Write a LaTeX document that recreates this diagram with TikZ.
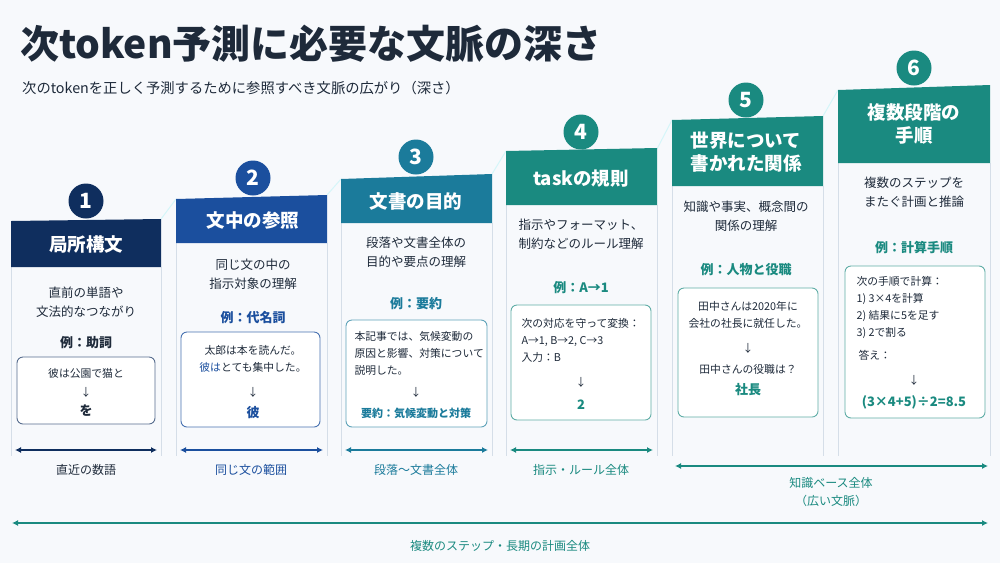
\documentclass[tikz,border=0pt]{standalone}
\usepackage{fontspec}
\setmainfont{Noto Sans CJK JP}
\usetikzlibrary{arrows.meta}
\definecolor{cA}{HTML}{0F2E5E}
\definecolor{cB}{HTML}{1B4F9E}
\definecolor{cC}{HTML}{1B7B9B}
\definecolor{cD}{HTML}{1A8A80}
\definecolor{txt}{HTML}{1E2A3A}
\definecolor{bord}{HTML}{D5DEE8}
\definecolor{bg}{HTML}{F7F9FC}
\begin{document}
\begin{tikzpicture}[x=1pt,y=-1pt,
  body/.style={draw=bord,fill=white,line width=0.8pt},
  num/.style={circle,minimum size=35pt,inner sep=0pt,text=white,font=\fontsize{21}{21}\selectfont\bfseries},
  head/.style={text=white,font=\fontsize{18.5}{23}\selectfont\bfseries,align=center},
  desc/.style={text=txt,font=\fontsize{12.5}{19}\selectfont,align=center},
  ex/.style={font=\fontsize{13}{15}\selectfont\bfseries},
  exbox/.style={draw,rounded corners=6pt,line width=0.9pt,fill=white},
  small/.style={text=txt,font=\fontsize{10.8}{17}\selectfont,align=left,anchor=north west},
  sc/.style={text=txt,font=\fontsize{10.8}{12}\selectfont},
  rng/.style={{Latex[length=6pt,width=6pt]}-{Latex[length=6pt,width=6pt]},line width=1.3pt},
  rl/.style={text=txt,font=\fontsize{12}{18}\selectfont}]
\fill[bg] (0,0) rectangle (1000,563);
\useasboundingbox (0,0) rectangle (1000,563);
\node[anchor=west,text=txt,font=\fontsize{39}{42}\selectfont\bfseries,inner sep=0pt] (title) at (20,44) {次token予測に必要な文脈の深さ};
\node[anchor=west,text=txt,font=\fontsize{14.3}{16}\selectfont,inner sep=0pt] (sub) at (22,88) {次のtokenを正しく予測するために参照すべき文脈の広がり（深さ）};
% connectors between headers
\draw[bord!70!cyan!40,line width=1pt] (161,219) -- (176,199) (327,195) -- (341,179) (492,174) -- (506,151) (657,149) -- (672,120) (823,116) -- (838,90) ;
% columns
\foreach \xa/\xb/\ta/\tb/\hb/\c in {11/161/221/219/267/cA,176/327/199/195/243/cB,341/492/179/174/223/cC,506/657/151/148/205/cD,672/823/120/116/186/cD,838/990/90/85/163/cD}{
  \draw[body] (\xa,\hb) -- (\xa,456) (\xb,\hb) -- (\xb,456);
  \fill[\c] (\xa,\ta) -- (\xb,\tb) -- (\xb,\hb) -- (\xa,\hb) -- cycle;
}
\node[num,fill=cA] (n1) at (86,201) {1};
\node[num,fill=cB] (n2) at (253,178) {2};
\node[num,fill=cC] (n3) at (416,157) {3};
\node[num,fill=cD] (n4) at (581,132) {4};
\node[num,fill=cD] (n5) at (746,100) {5};
\node[num,fill=cD] (n6) at (914,68) {6};
\node[head] (h1) at (86,244) {局所構文};
\node[head] (h2) at (253,221) {文中の参照};
\node[head] (h3) at (416,201) {文書の目的};
\node[head] (h4) at (581,179) {taskの規則};
\node[head] (h5) at (746,152) {世界について\\書かれた関係};
\node[head] (h6) at (914,124) {複数段階の\\手順};
% descriptions
\node[desc] (d1) at (86,302) {直前の単語や\\文法的なつながり};
\node[desc] (d2) at (253,274) {同じ文の中の\\指示対象の理解};
\node[desc] (d3) at (416,252) {段落や文書全体の\\目的や要点の理解};
\node[desc] (d4) at (581,234) {指示やフォーマット、\\制約などのルール理解};
\node[desc] (d5) at (746,216) {知識や事実、概念間の\\関係の理解};
\node[desc] (d6) at (914,192) {複数のステップを\\またぐ計画と推論};
\node[ex,text=txt] (e1) at (86,343) {例：助詞};
\node[ex,text=cB] (e2) at (253,318) {例：代名詞};
\node[ex,text=cC] (e3) at (416,304) {例：要約};
\node[ex,text=cD] (e4) at (581,288) {例：A→1};
\node[ex,text=cD] (e5) at (746,270) {例：人物と役職};
\node[ex,text=cD] (e6) at (914,248) {例：計算手順};
% example boxes
\draw[exbox,draw=cA!70] (17,357) rectangle (155,424);
\draw[exbox,draw=cB!80] (181,332) rectangle (320,427);
\draw[exbox,draw=cC!70] (346,320) rectangle (487,427);
\draw[exbox,draw=cD!70] (511,305) rectangle (651,420);
\draw[exbox,draw=cD!70] (678,288) rectangle (818,417);
\draw[exbox,draw=cD!70] (845,266) rectangle (985,418);
% box 1
\node[sc] (b1a) at (86,373) {彼は公園で猫と};
\node[sc] (b1b) at (86,392) {↓};
\node[ex,text=txt] (b1c) at (86,411) {を};
% box 2
\node[sc] (b2a) at (253,350) {太郎は本を読んだ。};
\node[sc] (b2b) at (253,367) {\textcolor{cB}{彼は}とても集中した。};
\node[sc] (b2c) at (253,392) {↓};
\node[ex,text=cB] (b2d) at (253,413) {彼};
% box 3
\node[small] (b3a) at (351,328) {本記事では、気候変動の\\原因と影響、対策について\\説明した。};
\node[sc] (b3b) at (416,392) {↓};
\node[ex,text=cC,font=\fontsize{11}{12}\selectfont\bfseries] (b3c) at (416,413) {要約：気候変動と対策};
% box 4
\node[small] (b4a) at (518,315) {次の対応を守って変換：\\A→1, B→2, C→3\\入力：B};
\node[sc] (b4b) at (581,382) {↓};
\node[ex,text=cD] (b4c) at (581,405) {2};
% box 5
\node[sc] (b5a) at (748,306) {田中さんは2020年に};
\node[sc] (b5b) at (748,323) {会社の社長に就任した。};
\node[sc] (b5c) at (748,348) {↓};
\node[sc] (b5d) at (748,369) {田中さんの役職は？};
\node[ex,text=cD] (b5e) at (748,390) {社長};
% box 6
\node[small] (b6a) at (853,273) {次の手順で計算：\\1) 3×4を計算\\2) 結果に5を足す\\3) 2で割る};
\node[sc,anchor=west] (b6b) at (855,355) {答え：};
\node[sc] (b6c) at (914,380) {↓};
\node[ex,text=cD] (b6d) at (914,402) {(3×4+5)÷2=8.5};
% range arrows
\coordinate (r1a) at (15,450); \coordinate (r1b) at (157,450);
\coordinate (r2a) at (180,450); \coordinate (r2b) at (323,450);
\coordinate (r3a) at (345,450); \coordinate (r3b) at (488,450);
\coordinate (r4a) at (510,450); \coordinate (r4b) at (653,450);
\coordinate (r5a) at (675,466); \coordinate (r5b) at (988,466);
\coordinate (r6a) at (12,523); \coordinate (r6b) at (988,523);
\draw[rng,cA] (r1a) -- (r1b);
\draw[rng,cB] (r2a) -- (r2b);
\draw[rng,cC] (r3a) -- (r3b);
\draw[rng,cD] (r4a) -- (r4b);
\draw[rng,cD] (r5a) -- (r5b);
\draw[rng,cD] (r6a) -- (r6b);
\node[rl] (l1) at (86,470) {直近の数語};
\node[rl,text=cB] (l2) at (251,470) {同じ文の範囲};
\node[rl,text=cC] (l3) at (416,470) {段落〜文書全体};
\node[rl,text=cD] (l4) at (581,470) {指示・ルール全体};
\node[rl,text=cD,align=center] (l5) at (831,492) {知識ベース全体\\（広い文脈）};
\node[rl,text=cD] (l6) at (500,546) {複数のステップ・長期の計画全体};
\end{tikzpicture}
\end{document}
